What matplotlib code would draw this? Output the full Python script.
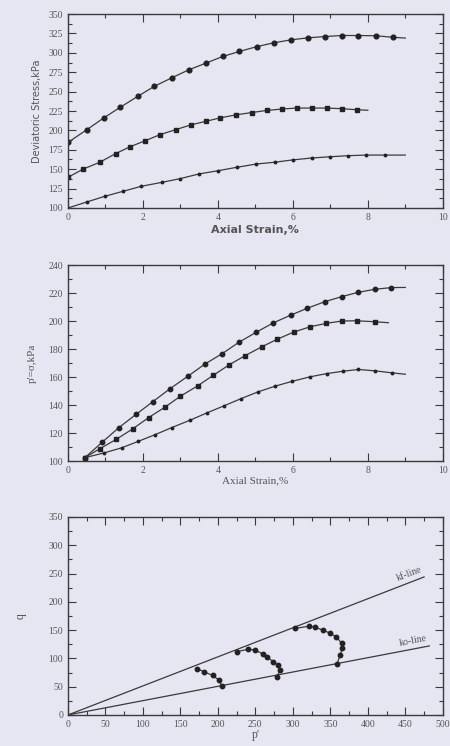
import numpy as np
import matplotlib.pyplot as plt
from matplotlib.ticker import MultipleLocator

# ---- panel 1: deviatoric stress vs axial strain ----
strain_a = [0.0, 0.5, 0.95, 1.4, 1.86, 2.3, 2.77, 3.22, 3.68, 4.13, 4.57, 5.04, 5.5, 5.95, 6.4, 6.86, 7.3, 7.74, 8.22, 8.67, 9.0]
dev_a = [184.5, 200.8, 215.9, 230, 243.8, 256.7, 267.8, 278, 286.7, 295.3, 301.7, 308, 313, 316.7, 319.3, 321, 322.3, 322.3, 322, 320, 319]

strain_b = [0.0, 0.4, 0.85, 1.27, 1.66, 2.06, 2.45, 2.87, 3.27, 3.67, 4.05, 4.48, 4.9, 5.3, 5.7, 6.1, 6.5, 6.9, 7.3, 7.71, 8.0]
dev_b = [139.5, 150, 159, 170, 179, 186.7, 194.4, 200.9, 207, 211.6, 216, 220, 223, 225.7, 227.5, 228.8, 228.8, 228.8, 228, 226.6, 226]

strain_c = [0.0, 0.5, 0.98, 1.47, 1.96, 2.5, 2.99, 3.49, 4.0, 4.5, 5.03, 5.52, 6.0, 6.5, 6.98, 7.47, 7.96, 8.45, 8.76, 9.0]
dev_c = [100, 107.7, 115, 121.5, 128, 133, 137.8, 143.8, 148, 152.4, 156.7, 159, 162, 164.4, 166, 167.4, 168.2, 168.2, 168.2, 168.2]

# ---- panel 2: p' vs axial strain ----
strain_p1 = [0.45, 0.92, 1.36, 1.82, 2.27, 2.73, 3.2, 3.65, 4.12, 4.57, 5.03, 5.47, 5.95, 6.38, 6.85, 7.3, 7.74, 8.19, 8.63, 9.0]
p_1 = [102.4, 113.6, 123.9, 133.4, 142.5, 151.8, 160.6, 169.2, 176.8, 185, 192.1, 198.6, 204.3, 209.1, 213.8, 217.4, 220.5, 222.7, 223.9, 224]

strain_p2 = [0.45, 0.85, 1.29, 1.74, 2.15, 2.6, 3.0, 3.46, 3.88, 4.3, 4.72, 5.17, 5.59, 6.02, 6.46, 6.88, 7.3, 7.7, 8.19, 8.55]
p_2 = [102.4, 108.8, 115.5, 123.2, 131, 138.7, 146.3, 153.7, 161.3, 168.7, 175.2, 181.6, 187.1, 192.1, 195.9, 198.3, 200, 200.2, 199.5, 198.8]

strain_p3 = [0.45, 0.95, 1.44, 1.88, 2.33, 2.77, 3.25, 3.71, 4.16, 4.62, 5.07, 5.53, 5.99, 6.45, 6.91, 7.35, 7.75, 8.2, 8.64, 9.0]
p_3 = [102.4, 105.7, 109.5, 114.1, 118.9, 123.9, 129.1, 134.4, 139.4, 144.6, 149.4, 153.5, 157, 160.1, 162.5, 164.2, 165.4, 164.4, 163, 162]

# ---- panel 3: stress paths q vs p' ----
kf_p = [0, 475]
kf_q = [0, 244]
k0_p = [0, 482]
k0_q = [0, 122]

path1_p = [205, 201, 193, 182, 172]
path1_q = [52, 62, 70, 76, 82]
path2_p = [279, 283, 280, 274, 266, 260, 249, 240, 225]
path2_q = [68, 80, 88, 94, 102, 108, 115, 116, 112]
path3_p = [359, 363, 366, 365, 358, 349, 340, 330, 322, 303]
path3_q = [90, 106, 118, 127, 138, 145, 150, 155, 157, 153]

BG = '#e5e6f2'
INK = '#3a3a3a'
TXT = '#555555'

plt.rcParams['font.family'] = ['Liberation Serif', 'DejaVu Serif']

fig = plt.figure(figsize=(4.5, 7.46), dpi=100, facecolor=BG)
ax1 = fig.add_axes([0.151, 0.7212, 0.833, 0.260])
ax2 = fig.add_axes([0.151, 0.382, 0.833, 0.2627])
ax3 = fig.add_axes([0.151, 0.0416, 0.833, 0.2654])


def style(ax, xmaj, xmin, ymaj, ymin):
    ax.set_facecolor(BG)
    ax.xaxis.set_major_locator(MultipleLocator(xmaj))
    ax.xaxis.set_minor_locator(MultipleLocator(xmin))
    ax.yaxis.set_major_locator(MultipleLocator(ymaj))
    ax.yaxis.set_minor_locator(MultipleLocator(ymin))
    ax.tick_params(which='both', direction='in', top=True, right=True,
                   colors=INK, labelcolor=TXT, labelsize=7, width=0.8)
    ax.tick_params(which='major', length=6)
    ax.tick_params(which='minor', length=3)
    for s in ax.spines.values():
        s.set_color(INK)
        s.set_linewidth(1.0)


# panel 1
ax1.plot(strain_a, dev_a, '-', color=INK, lw=0.9, marker='o', ms=3.4,
         mfc='#222222', mec='#222222', markevery=list(range(len(strain_a) - 1)))
ax1.plot(strain_b, dev_b, '-', color=INK, lw=0.9, marker='s', ms=3.3,
         mfc='#222222', mec='#222222', markevery=list(range(len(strain_b) - 1)))
ax1.plot(strain_c, dev_c, '-', color=INK, lw=0.9, marker='o', ms=1.8,
         mfc='#222222', mec='#222222', markevery=list(range(len(strain_c) - 2)))
ax1.set_xlim(0, 10)
ax1.set_ylim(100, 350)
style(ax1, 2, 1, 25, 12.5)
ax1.set_xlabel('Axial Strain,%', fontsize=8, color=TXT, fontweight='bold',
               family='DejaVu Sans', labelpad=2)
ax1.set_ylabel('Deviatoric Stress,kPa', fontsize=7, color=TXT,
               family='DejaVu Sans', labelpad=5)

# panel 2
ax2.plot(strain_p1, p_1, '-', color=INK, lw=0.9, marker='o', ms=3.2,
         mfc='#222222', mec='#222222', markevery=list(range(len(strain_p1) - 1)))
ax2.plot(strain_p2, p_2, '-', color=INK, lw=0.9, marker='s', ms=3.3,
         mfc='#222222', mec='#222222', markevery=list(range(len(strain_p2) - 1)))
ax2.plot(strain_p3, p_3, '-', color=INK, lw=0.9, marker='o', ms=1.8,
         mfc='#222222', mec='#222222', markevery=list(range(len(strain_p3) - 1)))
ax2.set_xlim(0, 10)
ax2.set_ylim(100, 240)
style(ax2, 2, 1, 20, 10)
ax2.set_xlabel('Axial Strain,%', fontsize=8, color=TXT, labelpad=1)
ax2.set_ylabel("p'=σ,kPa", fontsize=8, color=TXT, labelpad=8)

# panel 3
ax3.plot(kf_p, kf_q, '-', color=INK, lw=0.9)
ax3.plot(k0_p, k0_q, '-', color=INK, lw=0.9)
for pp, qq in [(path1_p, path1_q), (path2_p, path2_q), (path3_p, path3_q)]:
    ax3.plot(pp, qq, '-', color=INK, lw=0.9, marker='o', ms=3.2,
             mfc='#222222', mec='#222222')
ax3.text(455, 234, 'kf-line', fontsize=7, color=TXT, rotation=21,
         ha='center', va='bottom')
ax3.text(460, 118, 'ko-line', fontsize=7, color=TXT, rotation=11,
         ha='center', va='bottom')
ax3.set_xlim(0, 500)
ax3.set_ylim(0, 350)
style(ax3, 50, 25, 50, 25)
ax3.set_xlabel("p'", fontsize=8.5, color=TXT, labelpad=0)
ax3.set_ylabel('q', fontsize=8.5, color=TXT, labelpad=16)

fig.savefig('out.png', dpi=100, facecolor=BG)
